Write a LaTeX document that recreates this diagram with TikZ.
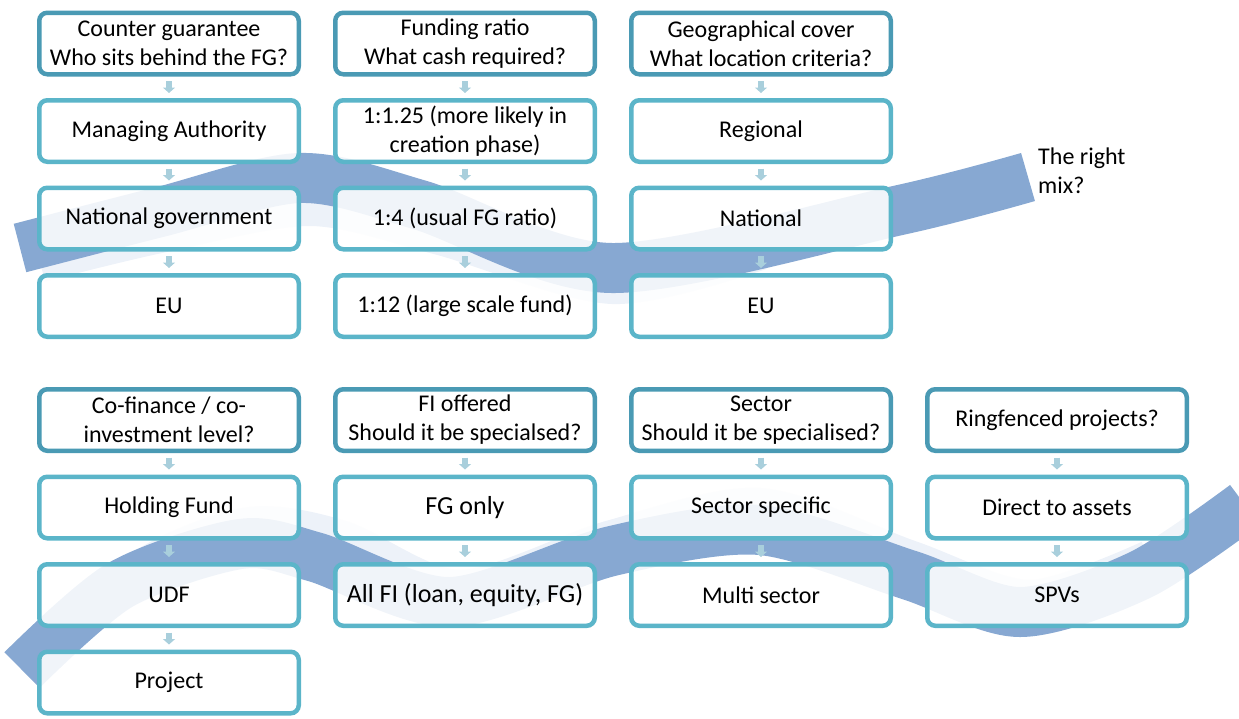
\documentclass[tikz,border=0pt]{standalone}
\usepackage{fontspec}
\setmainfont{Carlito}
\usepackage{xcolor}
\usetikzlibrary{positioning,arrows.meta}
\definecolor{hdrc}{HTML}{4A9AB4}
\definecolor{boxc}{HTML}{5BB5C9}
\definecolor{arrc}{HTML}{A9CFDC}
\definecolor{wavec}{HTML}{87A8D2}
\definecolor{palec}{HTML}{EDF2F9}

\begin{document}
\begin{tikzpicture}[x=1pt,y=-1pt,node distance=21.5pt,
        box/.style={draw=boxc,line width=4.5pt,rounded corners=8pt,fill=white,fill opacity=0.88,text opacity=1,
            minimum width=259.5pt,minimum height=61.5pt,inner sep=2pt,align=center},
        hdr/.style={box,draw=hdrc},
        big/.style={font=\fontsize{26}{31}\selectfont},
        flow/.style={draw=arrc,line width=6.5pt,-{Triangle[width=12pt,length=5.5pt]},shorten <=4.5pt,shorten >=5pt},
        wave/.style={draw=wavec,line width=50pt},
        back/.style={draw=palec,line width=40pt}]
    \useasboundingbox (0,0) rectangle (1239,718);
    \tikzstyle{every node}=[font=\fontsize{24}{29}\selectfont]
    % ribbons behind the boxes
    \begin{scope}
        \clip (0,0) rectangle (1239,718);
        \draw[back] plot[smooth] coordinates {(40,262) (160,233) (310,206) (440,235) (612,284) (760,250)};
        \draw[wave] plot[smooth] coordinates {(20,248) (160,212) (300,178) (420,205) (612,268) (900,210) (1028,177)};
        \draw[back] plot[smooth] coordinates {(60,640) (150,565) (250,527) (340,540) (460,590) (612,540) (760,508) (909,560) (1030,600) (1150,560)};
        \draw[wave] plot[smooth] coordinates {(22,670) (120,585) (240,544) (315,557) (450,602) (612,551) (760,530) (909,575) (1020,612) (1140,575) (1245,505)};
    \end{scope}
    % top block
    \node[hdr] (a0) at (169,43.5) {Counter guarantee\\Who sits behind the FG?};
    \node[box] (a1) [below=of a0] {Managing Authority};
    \node[box] (a2) [below=of a1] {National government};
    \node[box] (a3) [below=of a2] {EU};
    \node[hdr] (b0) [right=32pt of a0] {Funding ratio\\What cash required?};
    \node[box] (b1) [below=of b0] {1:1.25 (more likely in\\creation phase)};
    \node[box] (b2) [below=of b1] {1:4 (usual FG ratio)};
    \node[box] (b3) [below=of b2] {1:12 (large scale fund)};
    \node[hdr] (c0) [right=32pt of b0] {Geographical cover\\What location criteria?};
    \node[box] (c1) [below=of c0] {Regional};
    \node[box] (c2) [below=of c1] {National};
    \node[box] (c3) [below=of c2] {EU};
    \node[anchor=west,inner sep=0pt,align=left] (mix) at (1038,171) {The right\\mix?};
    % bottom block
    \node[hdr] (d0) at (169,420) {Co-finance / co-\\investment level?};
    \node[box] (d1) [below=of d0] {Holding Fund};
    \node[box] (d2) [below=of d1] {UDF};
    \node[box] (d3) [below=of d2] {Project};
    \node[hdr] (e0) [right=32pt of d0] {FI offered\\Should it be specialsed?};
    \node[box,big] (e1) [below=of e0] {FG only};
    \node[box,big] (e2) [below=of e1] {All FI (loan, equity, FG)};
    \node[hdr] (f0) [right=32pt of e0] {Sector\\Should it be specialised?};
    \node[box] (f1) [below=of f0] {Sector specific};
    \node[box] (f2) [below=of f1] {Multi sector};
    \node[hdr] (g0) [right=32pt of f0] {Ringfenced projects?};
    \node[box] (g1) [below=of g0] {Direct to assets};
    \node[box] (g2) [below=of g1] {SPVs};
    \path
        (a0) edge[flow] (a1) (a1) edge[flow] (a2) (a2) edge[flow] (a3)
        (b0) edge[flow] (b1) (b1) edge[flow] (b2) (b2) edge[flow] (b3)
        (c0) edge[flow] (c1) (c1) edge[flow] (c2) (c2) edge[flow] (c3)
        (d0) edge[flow] (d1) (d1) edge[flow] (d2) (d2) edge[flow] (d3)
        (e0) edge[flow] (e1) (e1) edge[flow] (e2)
        (f0) edge[flow] (f1) (f1) edge[flow] (f2)
        (g0) edge[flow] (g1) (g1) edge[flow] (g2);
\end{tikzpicture}
\end{document}
